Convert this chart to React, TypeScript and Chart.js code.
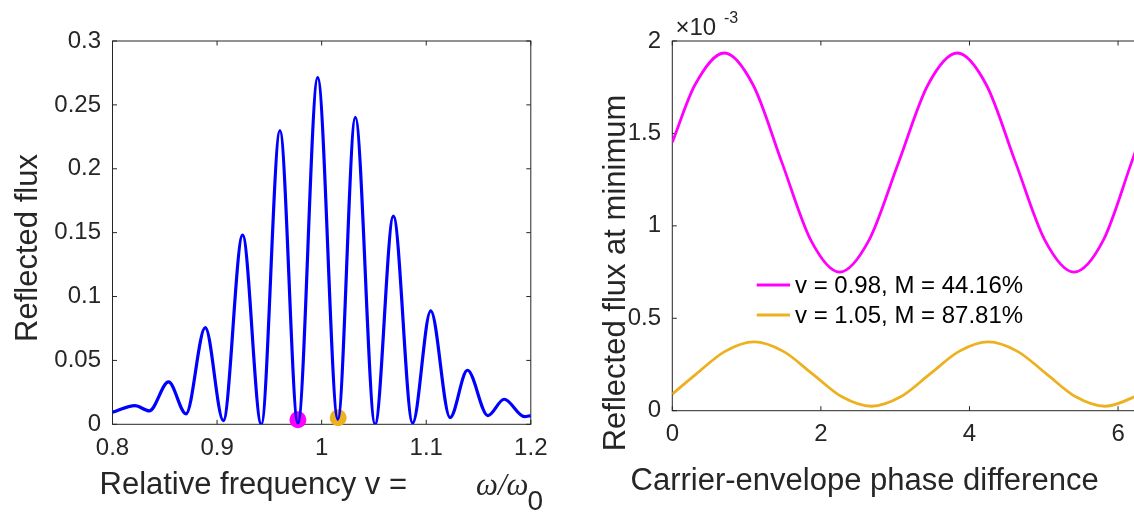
import React, { useEffect, useRef } from "react";
import { Chart, registerables } from "chart.js";

Chart.register(...registerables);

// ---- Spectrum: reflected flux vs relative frequency (peaks and troughs) ----
const FREQ = [
  0.8, 0.8215, 0.8352, 0.8536, 0.8703, 0.8887, 0.906, 0.9244, 0.9423, 0.9601,
  0.9773, 0.9962, 1.0155, 1.0322, 1.0511, 1.0686, 1.087, 1.1043, 1.1228, 1.1394,
  1.159, 1.1745, 1.194, 1.2,
];
const FLUX = [
  0.0094, 0.0146, 0.0105, 0.0332, 0.0082, 0.0757, 0.0029, 0.148, 0.0, 0.2298,
  0.0008, 0.2713, 0.004, 0.2402, 0.0, 0.163, 0.001, 0.0888, 0.0053, 0.0423,
  0.0068, 0.0196, 0.006, 0.0068,
];
const FREQ_TICKS = [0.8, 0.9, 1, 1.1, 1.2];
const FLUX_TICKS = [0, 0.05, 0.1, 0.15, 0.2, 0.25, 0.3];

// Selected minima marked on the spectrum
const MARK_FREQ = [0.9773, 1.0158];
const MARK_FLUX = [0.0035, 0.0052];

// ---- Reflected flux at minimum vs carrier-envelope phase (units of 1e-3) ----
const PHASE_A = [
  0, 0.304, 0.7, 1.088, 1.476, 1.864, 2.252, 2.648, 3.044, 3.44, 3.836, 4.228,
  4.621, 5.014, 5.406, 5.802, 6.18, 6.283,
];
const MIN_FLUX_A = [
  1.452, 1.762, 1.935, 1.762, 1.342, 0.923, 0.75, 0.923, 1.342, 1.762, 1.935, 1.762,
  1.342, 0.923, 0.75, 0.923, 1.342, 1.46,
];
const PHASE_B = [
  0, 0.32, 0.71, 1.1, 1.495, 1.89, 2.284, 2.679, 3.073, 3.466, 3.86, 4.253,
  4.646, 5.039, 5.431, 5.824, 6.217, 6.283,
];
const MIN_FLUX_B = [
  0.09, 0.198, 0.321, 0.372, 0.321, 0.198, 0.075, 0.024, 0.075, 0.198, 0.321, 0.372,
  0.321, 0.198, 0.075, 0.024, 0.075, 0.091,
];
const SERIES_LABELS = ["v = 0.98, M = 44.16%", "v = 1.05, M = 87.81%"];
const PHASE_TICKS = [0, 2, 4, 6];
const MIN_FLUX_TICKS = [0, 0.5, 1, 1.5, 2];

const SANS = "'Liberation Sans', Arial, Helvetica, sans-serif";
const SERIF = "'Liberation Serif', 'Times New Roman', serif";
const AXIS_COLOR = "#262626";
const BLUE = "#0000FF";
const MAGENTA = "#FF00FF";
const ORANGE = "#EDB120";

const pts = (xs: number[], ys: number[]) => xs.map((x, i) => ({ x, y: ys[i] }));

// Box around the plot area with inward tick marks on all four sides
const framePlugin = {
  id: "frame",
  beforeDatasetsDraw(chart: any, _args: any, opts: any) {
    const { ctx, chartArea: a, scales } = chart;
    const L = opts.tickLen ?? 4.5;
    ctx.save();
    ctx.strokeStyle = AXIS_COLOR;
    ctx.lineWidth = 1;
    ctx.strokeRect(a.left, a.top, a.right - a.left, a.bottom - a.top);
    ctx.beginPath();
    scales.x.ticks.forEach((t: any) => {
      const px = scales.x.getPixelForValue(t.value);
      ctx.moveTo(px, a.bottom);
      ctx.lineTo(px, a.bottom - L);
      ctx.moveTo(px, a.top);
      ctx.lineTo(px, a.top + L);
    });
    scales.y.ticks.forEach((t: any) => {
      const py = scales.y.getPixelForValue(t.value);
      ctx.moveTo(a.left, py);
      ctx.lineTo(a.left + L, py);
      ctx.moveTo(a.right, py);
      ctx.lineTo(a.right - L, py);
    });
    ctx.stroke();
    ctx.restore();
  },
};

// Free text (axis titles, exponent) and an inset legend
const textPlugin = {
  id: "texts",
  afterDraw(chart: any, _args: any, opts: any) {
    const { ctx } = chart;
    ctx.save();
    (opts.items || []).forEach((it: any) => {
      ctx.save();
      ctx.font = it.font;
      ctx.fillStyle = it.color || AXIS_COLOR;
      ctx.textAlign = it.align || "left";
      ctx.textBaseline = it.baseline || "alphabetic";
      ctx.translate(it.x, it.y);
      if (it.rotate) ctx.rotate(it.rotate);
      ctx.fillText(it.text, 0, 0);
      ctx.restore();
    });
    const lg = opts.legend;
    if (lg) {
      chart.data.datasets.forEach((ds: any, i: number) => {
        const y = lg.y + i * lg.rowGap;
        ctx.strokeStyle = ds.borderColor;
        ctx.lineWidth = lg.lineWidth;
        ctx.beginPath();
        ctx.moveTo(lg.x0, y);
        ctx.lineTo(lg.x1, y);
        ctx.stroke();
        ctx.font = lg.font;
        ctx.fillStyle = "#000";
        ctx.textAlign = "left";
        ctx.textBaseline = "middle";
        ctx.fillText(ds.label, lg.textX, y + 1);
      });
    }
    ctx.restore();
  },
};

const tickFont = { family: SANS, size: 24 };

function axis(
  min: number,
  max: number,
  values: number[],
  fit: (s: any) => void,
  padding: number
) {
  return {
    type: "linear" as const,
    min,
    max,
    grid: { display: false, drawTicks: false },
    border: { display: false },
    afterBuildTicks: (s: any) => {
      s.ticks = values.map((v) => ({ value: v }));
    },
    afterFit: fit,
    ticks: {
      padding,
      color: AXIS_COLOR,
      font: tickFont,
      maxRotation: 0,
      autoSkip: false,
      callback: (v: any) => String(v),
    },
  };
}

export default function App() {
  const leftRef = useRef<HTMLCanvasElement>(null);
  const rightRef = useRef<HTMLCanvasElement>(null);

  useEffect(() => {
    const spectrum = new Chart(leftRef.current!, {
      type: "line",
      data: {
        datasets: [
          {
            label: "Reflected flux",
            data: pts(FREQ, FLUX),
            borderColor: BLUE,
            borderWidth: 3.2,
            pointRadius: 0,
            cubicInterpolationMode: "monotone",
          },
          {
            label: "v = 0.98",
            data: pts([MARK_FREQ[0]], [MARK_FLUX[0]]),
            showLine: false,
            pointRadius: 8.5,
            pointBorderWidth: 0,
            pointBackgroundColor: MAGENTA,
            borderColor: MAGENTA,
            clip: false,
          },
          {
            label: "v = 1.05",
            data: pts([MARK_FREQ[1]], [MARK_FLUX[1]]),
            showLine: false,
            pointRadius: 8.5,
            pointBorderWidth: 0,
            pointBackgroundColor: ORANGE,
            borderColor: ORANGE,
            clip: false,
          },
        ],
      },
      options: {
        responsive: false,
        animation: false,
        devicePixelRatio: 1,
        events: [],
        layout: { padding: { top: 41, right: 29.2, left: 0, bottom: 0 } },
        scales: {
          x: axis(0.8, 1.2, FREQ_TICKS, (s) => { s.height = 87.7; }, 10),
          y: axis(0, 0.3, FLUX_TICKS, (s) => { s.width = 112.5; }, 11.5),
        },
        plugins: {
          legend: { display: false },
          tooltip: { enabled: false },
          frame: { tickLen: 4.5 },
          texts: {
            items: [
              { text: "Reflected flux", x: 36.5, y: 248, rotate: -Math.PI / 2, align: "center", font: `31px ${SANS}` },
              { text: "Relative frequency v =", x: 99.5, y: 494, font: `31px ${SANS}` },
              { text: "ω/ω", x: 476, y: 495, font: `italic 31px ${SERIF}` },
              { text: "0", x: 527.5, y: 510, font: `28px ${SANS}` },
            ],
          },
        } as any,
      },
      plugins: [framePlugin, textPlugin],
    } as any);

    const cep = new Chart(rightRef.current!, {
      type: "line",
      data: {
        datasets: [
          {
            label: SERIES_LABELS[0],
            data: pts(PHASE_A, MIN_FLUX_A),
            borderColor: MAGENTA,
            borderWidth: 2.8,
            pointRadius: 0,
            cubicInterpolationMode: "monotone",
          },
          {
            label: SERIES_LABELS[1],
            data: pts(PHASE_B, MIN_FLUX_B),
            borderColor: ORANGE,
            borderWidth: 2.8,
            pointRadius: 0,
            cubicInterpolationMode: "monotone",
          },
        ],
      },
      options: {
        responsive: false,
        animation: false,
        devicePixelRatio: 1,
        events: [],
        layout: { padding: { top: 41, right: 20.9, left: 0, bottom: 0 } },
        scales: {
          x: axis(0, 2 * Math.PI, PHASE_TICKS, (s) => { s.height = 101.3; }, 9),
          y: axis(0, 2, MIN_FLUX_TICKS, (s) => { s.width = 112.3; }, 11.3),
        },
        plugins: {
          legend: { display: false },
          tooltip: { enabled: false },
          frame: { tickLen: 4.5 },
          texts: {
            items: [
              { text: "Reflected flux at minimum", x: 64.5, y: 273, rotate: -Math.PI / 2, align: "center", font: `31px ${SANS}` },
              { text: "Carrier-envelope phase difference", x: 70.5, y: 490, font: `31px ${SANS}` },
              { text: "×10", x: 115.5, y: 35, font: `24px ${SANS}` },
              { text: "-3", x: 164, y: 23, font: `16px ${SANS}` },
            ],
            legend: { x0: 196.7, x1: 230, textX: 235, y: 285, rowGap: 30, lineWidth: 3, font: `24px ${SANS}` },
          },
        } as any,
      },
      plugins: [framePlugin, textPlugin],
    } as any);

    return () => {
      spectrum.destroy();
      cep.destroy();
    };
  }, []);

  return (
    <div
      style={{
        position: "fixed",
        left: 0,
        top: 0,
        width: 1134,
        height: 512,
        overflow: "hidden",
        background: "#fff",
      }}
    >
      <canvas
        ref={leftRef}
        width={560}
        height={512}
        style={{ position: "absolute", left: 0, top: 0, width: 560, height: 512 }}
      />
      <canvas
        ref={rightRef}
        width={600}
        height={512}
        style={{ position: "absolute", left: 560, top: 0, width: 600, height: 512 }}
      />
    </div>
  );
}
